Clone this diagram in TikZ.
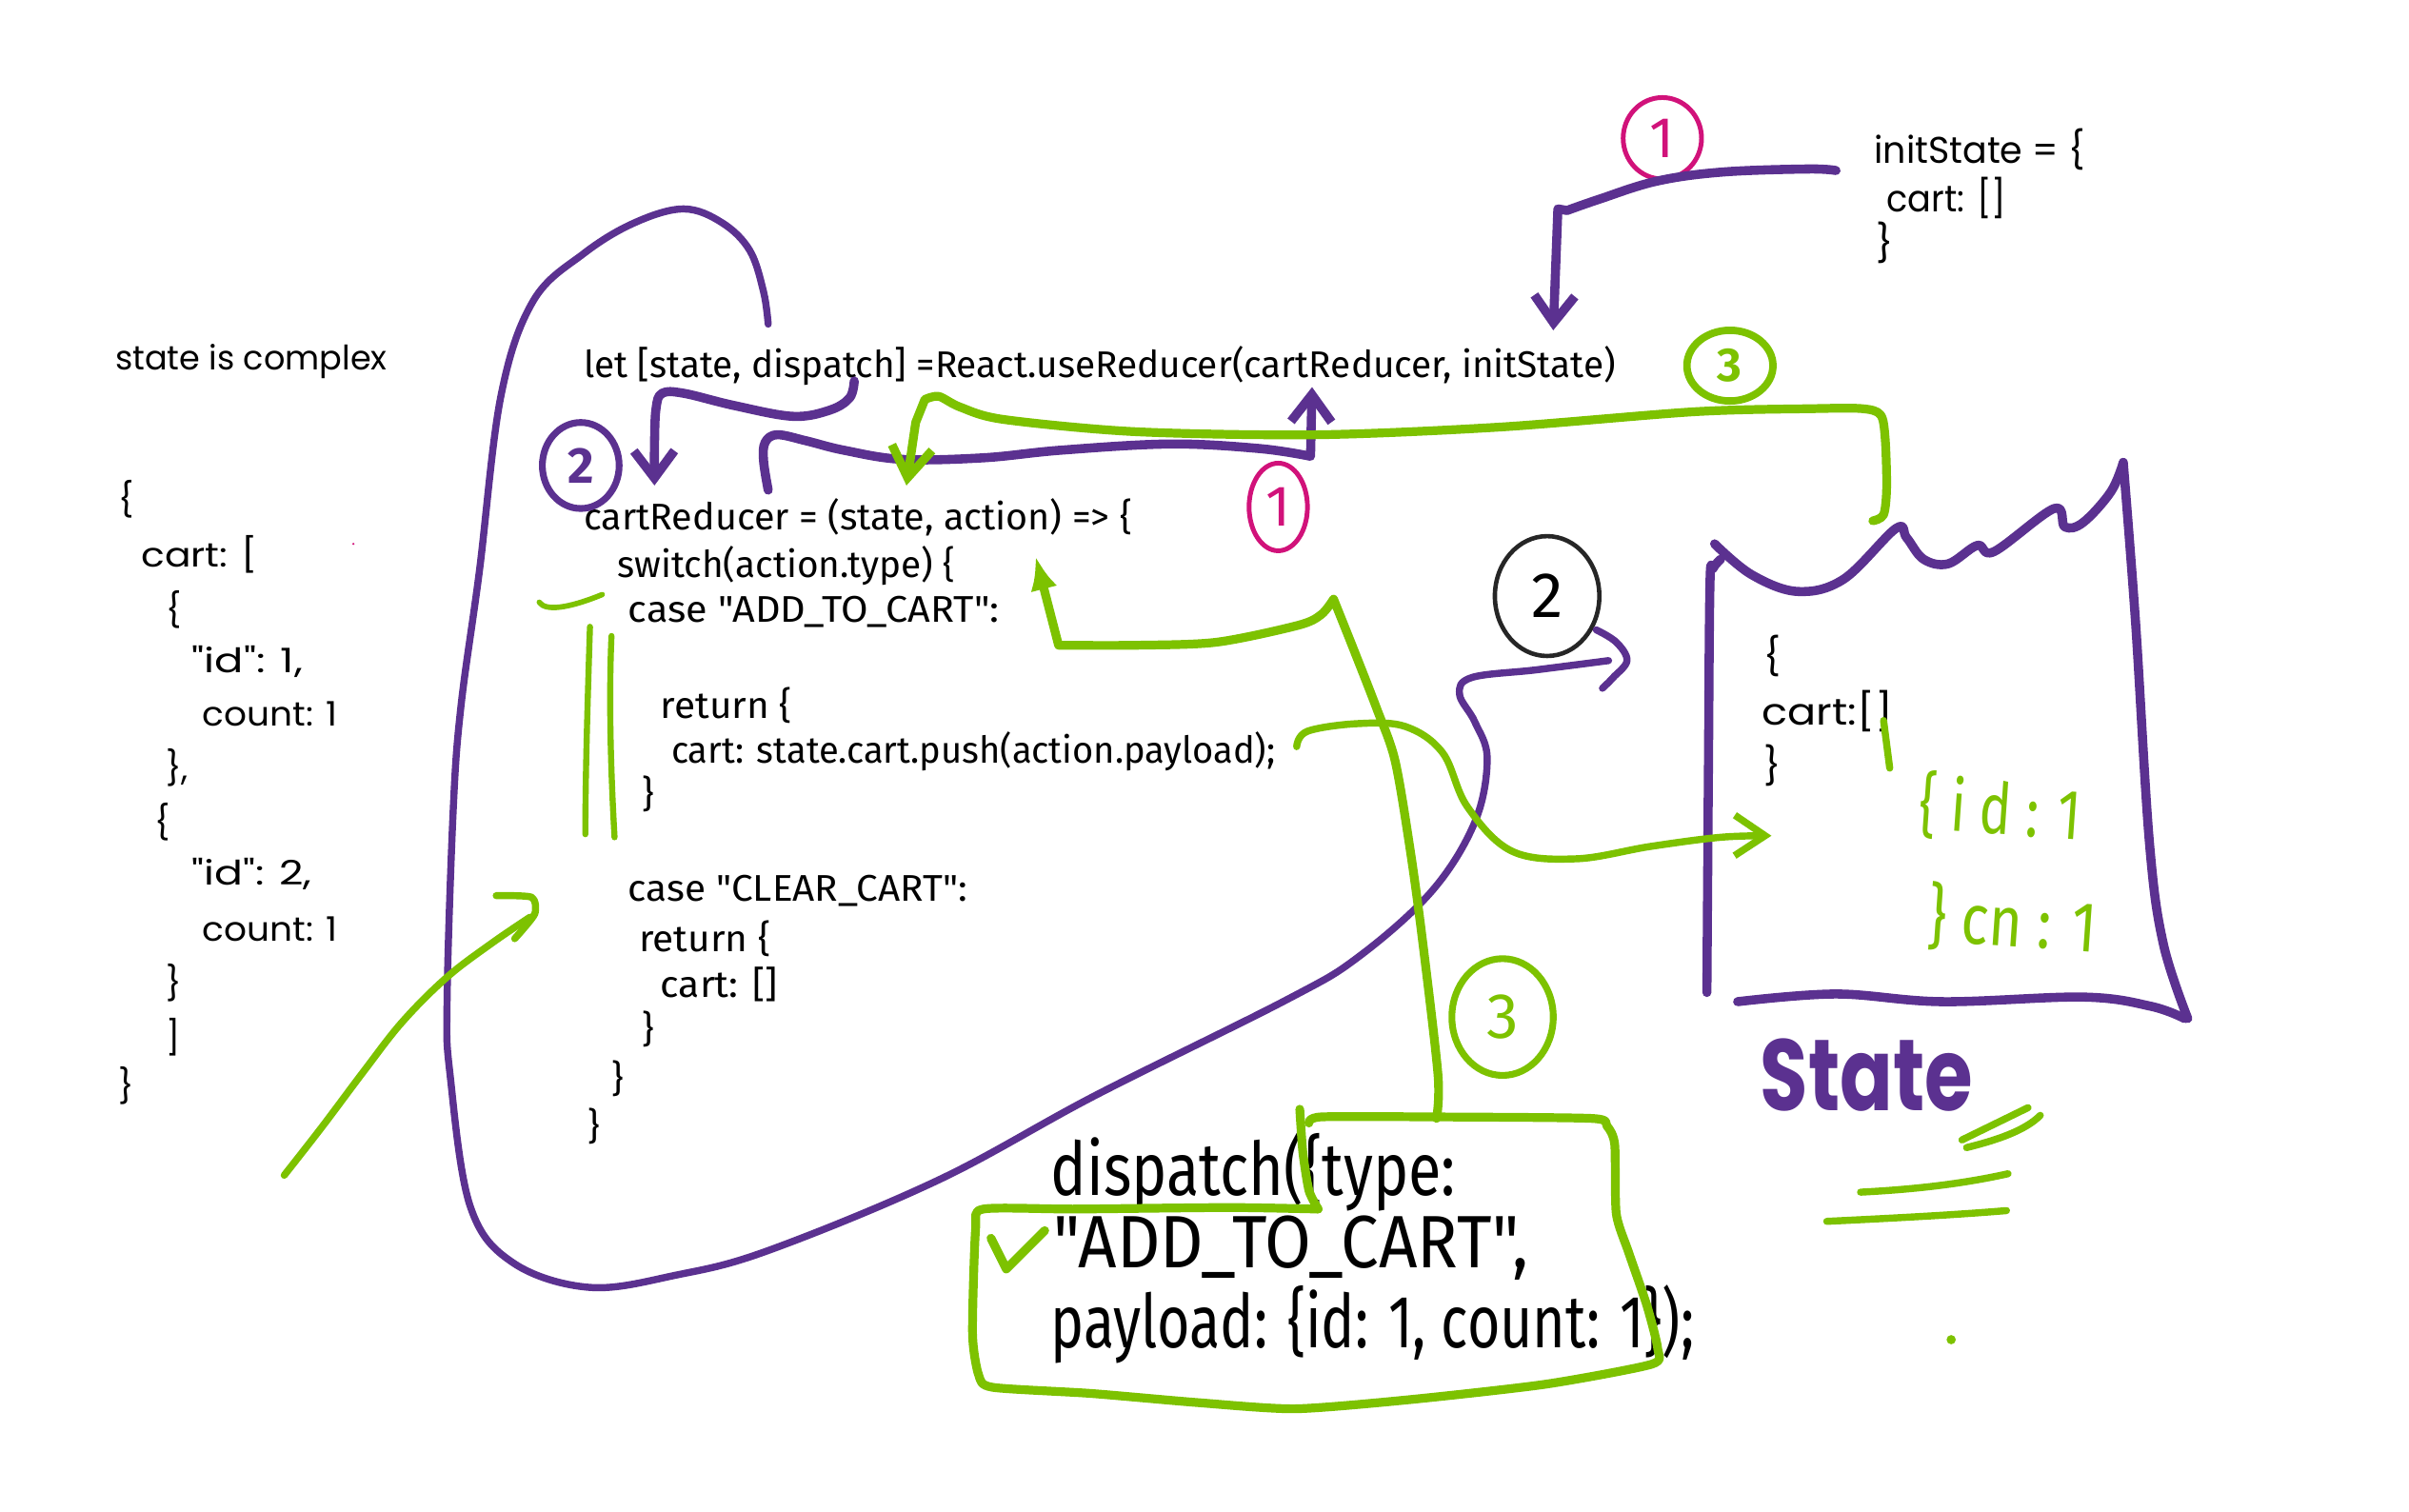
\documentclass[tikz,border=0pt]{standalone}
\usepackage{fontspec}
\setmainfont{Fira Sans}[Ligatures=TeXOff]
\newfontfamily\jsonf{Poppins}[Ligatures=TeXOff]
\usetikzlibrary{shapes.geometric,arrows.meta}
\definecolor{pur}{HTML}{5B3190}
\definecolor{grn}{HTML}{7DC200}
\definecolor{pnk}{HTML}{D1127A}
\newlength\pxu \setlength\pxu{0.016cm}
\newcommand\fw[2]{\resizebox{#1pt}{\height}{#2}}
\begin{document}
\begin{tikzpicture}[x=0.016cm,y=-0.016cm,
  every node/.style={inner sep=0pt, outer sep=0pt},
  code/.style={anchor=west, font=\fontsize{11}{13}\selectfont},
  json/.style={anchor=west, font=\jsonf\fontsize{10}{12}\selectfont},
  bigcode/.style={anchor=west, font=\fontsize{22}{26}\selectfont},
  pline/.style={draw=pur, line width=2.1pt, line cap=round, line join=round},
  pthick/.style={pline, line width=2.7pt},
  gline/.style={draw=grn, line width=2.1pt, line cap=round, line join=round},
  gthick/.style={gline, line width=2.6pt},
  pbarb/.style={-{Straight Barb[length=8pt,width=12pt]}},
  gbarb/.style={-{Straight Barb[length=9pt,width=12pt]}},
  circ/.style={draw, ellipse, inner sep=0pt},
]
\fill[white] (0,0) rectangle (1568,984);
\useasboundingbox (0,0) rectangle (1568,984);

% ---------- left JSON ----------
\node[json] (cx) at (75,235) {\fw{80.6}{state is complex}};
\node[json] (j1) at (77,325) {\{};
\node[json] (j2) at (92,361) {\fw{34.6}{cart: [}};
\node[json] (j3) at (108,397) {\{};
\node[json] (j4) at (125,431) {\fw{32.8}{"id": 1,}};
\node[json] (j5) at (132,465) {\fw{40}{count: 1}};
\node[json] (j6) at (108,500) {\},};
\node[json] (j7) at (101,535) {\{};
\node[json] (j8) at (125,569) {\fw{35.5}{"id": 2,}};
\node[json] (j9) at (132,605) {\fw{40}{count: 1}};
\node[json] (j10) at (108,640) {\}};
\node[json] (j11) at (108,675) {]};
\node[json] (j12) at (77,707) {\}};
\fill[pnk] (230,354) circle (0.8\pxu);

% ---------- middle code ----------
\node[code] (letl) at (380,238) {\fw{305.9}{let [state, dispatch] =React.useReducer(cartReducer, initState)}};
\node[code] (red) at (380,337) {\fw{162.5}{cartReducer = (state, action) => \{}};
\node[code] (sw) at (402,368) {\fw{100}{switch(action.type) \{}};
\node[code] (caseadd) at (409,398) {\fw{110}{case "ADD\_TO\_CART":}};
\node[code] (ret1) at (430,459) {\fw{39}{return \{}};
\node[code] (push) at (437,489) {\fw{179}{cart: state.cart.push(action.payload);}};
\node[code] (cb1) at (418,517) {\}};
\node[code] (caseclr) at (409,580) {\fw{100.6}{case "CLEAR\_CART":}};
\node[code] (ret2) at (416,611) {\fw{39}{return \{}};
\node[code] (cempty) at (430,641) {\fw{34.6}{cart: []}};
\node[code] (cb2) at (418,670) {\}};
\node[code] (cb3) at (398,702) {\}};
\node[code] (cb4) at (383,733) {\}};

% ---------- dispatch call ----------
\node[bigcode] (d1) at (684,763) {\fw{120}{dispatch(\{type:}};
\node[bigcode] (d2) at (686,812) {\fw{140.7}{"ADD\_TO\_CART",}};
\node[bigcode] (d3) at (684,862) {\fw{190.7}{payload: \{id: 1, count: 1\});}};

% ---------- initState ----------
\node[json, font=\jsonf\fontsize{11}{13}\selectfont] (is1) at (1220,97) {\fw{62.4}{initState = \{}};
\node[json, font=\jsonf\fontsize{11}{13}\selectfont] (is2) at (1228,129) {\fw{35.5}{cart: []}};
\node[json, font=\jsonf\fontsize{11}{13}\selectfont] (is3) at (1221,158) {\}};

% ---------- state box text ----------
\node[json, font=\jsonf\fontsize{11}{13}\selectfont] (sb1) at (1148,427) {\{};
\node[json, font=\jsonf\fontsize{11}{13}\selectfont] (sb2) at (1147,463) {\fw{38.7}{cart:[]}};
\node[json, font=\jsonf\fontsize{11}{13}\selectfont] (sb3) at (1148,498) {\}};
\node[font=\fontsize{21}{22}\selectfont, text=grn, rotate=-4] (gs1) at (1302,527) {\fw{48}{\{ i d : 1}};
\node[font=\fontsize{21}{22}\selectfont, text=grn, rotate=-4] (gs2) at (1310,600) {\fw{50}{\} cn : 1}};
\node[font=\jsonf\bfseries\fontsize{30}{32}\selectfont, text=pur] (stl) at (1215,700) {\fw{63}{State}};

% ---------- circled numbers ----------
\node[circ, draw=pnk, line width=1.4pt, minimum width=51\pxu, minimum height=53\pxu, text=pnk, font=\fontsize{17}{17}\selectfont] (c1a) at (1082,90) {1};
\node[circ, draw=pnk, line width=1.4pt, minimum width=38\pxu, minimum height=57\pxu, text=pnk, font=\fontsize{17}{17}\selectfont] (c1b) at (832,330) {1};
\node[circ, draw=pur, line width=2pt, minimum width=50\pxu, minimum height=56\pxu, text=pur, font=\bfseries\fontsize{15}{15}\selectfont] (c2a) at (378,303) {2};
\node[circ, draw=black!85, line width=1.3pt, minimum width=68\pxu, minimum height=78\pxu, font=\fontsize{19}{19}\selectfont] (c2b) at (1007,388) {2};
\node[circ, draw=grn, line width=2.2pt, minimum width=56\pxu, minimum height=46\pxu, text=grn, font=\bfseries\fontsize{14}{14}\selectfont] (c3a) at (1126,238) {3};
\node[circ, draw=grn, line width=2pt, minimum width=66\pxu, minimum height=76\pxu, text=grn, font=\fontsize{19}{19}\selectfont] (c3b) at (978,662) {3};

% ---------- named ends ----------
\coordinate (loopS) at (500,211);
\coordinate (loopE) at (1047,430);
\coordinate (dispS) at (556,248);
\coordinate (dispE) at (426,316);
\coordinate (bumpS) at (500,319);
\coordinate (useE) at (854,252);
\coordinate (initS) at (1195,111);
\coordinate (initE) at (1011,215);
\coordinate (g3S) at (1219,339);
\coordinate (g3E) at (590,316);
\coordinate (boxTop) at (935,728);
\coordinate (swE) at (674,362);
\coordinate (payS) at (844,486);
\coordinate (payE) at (1153,544);
\coordinate (leftS) at (185,765);
\coordinate (leftE) at (345,597);

% ---------- purple strokes ----------
\draw[pline] plot[smooth, tension=0.6] coordinates {(loopS) (497,190) (488,163) (470,145) (445,136) (413,145) (380,165) (347,196) (326,258) (312,372) (300,460) (295,527) (291,651) (293,700) (306,785) (334,822) (384,838) (440,830) (500,814) (611,768) (713,713) (837,651) (884,623) (932,580) (960,535) (968,494) (960,470) (950,452) (958,441) (1000,436) (loopE)};
\draw[pline] plot[smooth, tension=0.6] coordinates {(1039,410) (1052,418) (1059,430) (1050,441) (1043,448)};

\draw[pthick, pbarb] plot[smooth, tension=0.6] coordinates {(dispS) (553,259) (540,267) (516,271) (478,264) (445,256) (431,256) (427,266) (426,290) (dispE)};

\draw[pthick, pbarb] plot[smooth, tension=0.6] coordinates {(bumpS) (497,300) (498,288) (506,283) (525,287) (549,293) (587,299) (640,298) (691,293) (762,289) (820,292) (853,297)} -- (useE);

\draw[pthick, pbarb] plot[smooth, tension=0.6] coordinates {(initS) (1177,110) (1121,112) (1078,118) (1040,130) (1020,137)} -- (1014,136) -- (initE);

% state box
\draw[pthick] plot[smooth, tension=0.6] coordinates {(1120,364) (1115,370) (1113,380) (1112,500) (1111,646)};
\draw[pthick] plot[smooth, tension=0.6] coordinates {(1116,354) (1140,374) (1170,385) (1200,377) (1234,344) (1241,350) (1252,364) (1268,367) (1287,355) (1298,359) (1337,331) (1344,343) (1356,340) (1374,320) (1382,301)};
\draw[pthick] plot[smooth, tension=0.6] coordinates {(1382,301) (1390,405) (1399,548) (1408,614) (1424,663)};
\draw[pthick] plot[smooth, tension=0.6] coordinates {(1131,652) (1195,647) (1264,652) (1356,649) (1400,655) (1422,663)};

% ---------- green strokes ----------
\draw[gthick, gbarb] plot[smooth, tension=0.5] coordinates {(g3S) (1226,335) (1228,317) (1227,285) (1224,270) (1212,266) (1180,266) (1103,268) (976,278) (857,283) (739,281) (653,273) (625,265) (611,258) (602,260)} -- (596,275) -- (g3E);

\draw[gthick, -{Latex[length=10pt,width=8pt]}] plot[smooth, tension=0.5] coordinates {(boxTop) (936,700) (926,613) (918,554) (908,495) (896,461) (880,420) (868,390)} -- plot[smooth, tension=0.5] coordinates {(868,390) (860,400) (845,407) (792,418) (740,420) (689,420)} -- (swE);

\draw[gline, gbarb] plot[smooth, tension=0.6] coordinates {(payS) (851,476) (884,471) (915,473) (939,490) (955,525) (984,554) (1026,559) (1074,551) (1120,545) (payE)};

% box around dispatch
\draw[gthick] plot[smooth, tension=0.4] coordinates {(846,722) (848,750) (852,775) (858,787)};
\draw[gthick] plot[smooth, tension=0.4] coordinates {(858,787) (800,786) (700,787) (640,787) (635,800) (633,868) (637,895) (646,903) (710,907) (780,913) (843,917) (918,911) (1006,901) (1075,888) (1079,878) (1072,850) (1060,815) (1052,790) (1051,745) (1046,733) (1036,728) (932,727) (860,727) (852,731)};
\draw[gthick] (645,806) -- (655,826) -- (680,801);

\draw[gline, line width=1.8pt] (384,408) .. controls (382,470) and (381,510) .. (381,543);
\draw[gline, line width=1.8pt] (398,414) .. controls (396,460) and (398,510) .. (400,545);
\draw[gline, line width=1.6pt] (351,392) .. controls (355,398) and (370,396) .. (392,387);

\draw[gline] plot[smooth, tension=0.6] coordinates {(leftS) (210,733) (237,697) (262,665) (291,636) (320,614) (leftE)};
\draw[gline] plot[smooth, tension=0.4] coordinates {(323,583) (346,584) (348,595) (335,611)};

\draw[gline] (1226,469) -- (1230,500);
\draw[gline] (1277,742) -- (1320,721);
\draw[gline] (1280,747) .. controls (1300,742) and (1318,736) .. (1328,726);
\draw[gline] (1211,776) .. controls (1250,774) and (1280,770) .. (1307,764);
\draw[gline] (1189,795) .. controls (1230,793) and (1270,791) .. (1306,788);
\fill[grn] (1270,872) circle (3\pxu);
\end{tikzpicture}
\end{document}
